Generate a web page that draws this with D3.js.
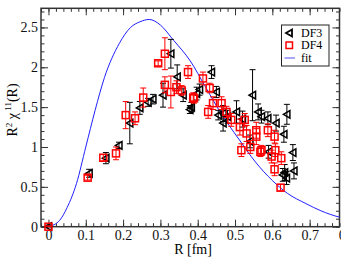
<html lang="en">
<head>
<meta charset="utf-8">
<title>R2 chi11</title>
<script src="https://cdn.jsdelivr.net/npm/d3@7"></script>
<style>
  body { margin: 0; background: white; }
  svg text { font-family: "Liberation Serif", "Times New Roman", serif; }
</style>
</head>
<body></body>
<script type="text/javascript">

//****************************************************************************************************************************//
// Data

var df3R   = [0, 0.109, 0.154, 0.189, 0.218, 0.245, 0.267, 0.280, 0.307, 0.328, 0.345, 0.361, 0.379, 0.383, 0.397, 0.405, 0.437, 0.450, 0.455, 0.468, 0.468, 0.480, 0.504, 0.520, 0.540, 0.547, 0.562, 0.571, 0.588, 0.590, 0.610, 0.628, 0.631, 0.633, 0.638, 0.639, 0.655, 0.658];
var df3Val = [0, 0.67, 0.86, 1.02, 1.30, 1.49, 1.56, 1.60, 1.65, 2.17, 1.88, 1.65, 1.47, 1.50, 1.67, 1.72, 1.94, 1.69, 1.40, 1.42, 1.30, 1.38, 1.44, 1.35, 1.07, 1.65, 1.44, 1.38, 1.36, 0.94, 1.30, 0.65, 1.16, 0.68, 0.61, 1.41, 0.93, 0.70];
var df3Err = [0.02, 0.05, 0.07, 0.04, 0.26, 0.08, 0.05, 0.06, 0.15, 0.18, 0.15, 0.08, 0.05, 0.06, 0.08, 0.07, 0.08, 0.07, 0.06, 0.10, 0.10, 0.08, 0.14, 0.10, 0.08, 0.32, 0.10, 0.08, 0.08, 0.08, 0.10, 0.08, 0.10, 0.10, 0.08, 0.125, 0.10, 0.10];

var df4R   = [0, 0.105, 0.147, 0.181, 0.207, 0.232, 0.254, 0.294, 0.312, 0.312, 0.328, 0.343, 0.357, 0.374, 0.388, 0.390, 0.414, 0.428, 0.432, 0.441, 0.464, 0.477, 0.490, 0.513, 0.517, 0.526, 0.531, 0.541, 0.557, 0.557, 0.568, 0.571, 0.588, 0.598, 0.606, 0.606, 0.608, 0.622, 0.624];
var df4Val = [0, 0.615, 0.865, 0.92, 1.40, 1.36, 1.62, 2.05, 2.17, 1.78, 1.69, 1.75, 1.71, 1.94, 1.62, 1.61, 1.86, 1.44, 1.74, 1.55, 1.55, 1.44, 1.34, 1.25, 0.96, 1.34, 1.17, 1.00, 1.21, 1.13, 0.94, 0.96, 1.21, 0.88, 1.13, 0.72, 0.96, 0.49, 0.86];
var df4Err = [0.01, 0.03, 0.04, 0.08, 0.17, 0.08, 0.12, 0.03, 0.20, 0.10, 0.20, 0.08, 0.06, 0.08, 0.06, 0.06, 0.08, 0.08, 0.06, 0.08, 0.08, 0.07, 0.08, 0.10, 0.08, 0.08, 0.10, 0.08, 0.10, 0.10, 0.06, 0.06, 0.08, 0.08, 0.08, 0.08, 0.08, 0.04, 0.08];

var fitR   = [0, 0.03, 0.05, 0.075, 0.10, 0.125, 0.15, 0.19, 0.22, 0.245, 0.27, 0.30, 0.335, 0.38, 0.42, 0.46, 0.51, 0.555, 0.60, 0.64, 0.69, 0.73, 0.78, 0.80];
var fitVal = [0, 0.08, 0.24, 0.54, 1.00, 1.46, 1.87, 2.30, 2.50, 2.57, 2.60, 2.53, 2.34, 2.08, 1.76, 1.44, 1.10, 0.81, 0.58, 0.42, 0.29, 0.20, 0.12, 0.10];

var xTicks = [0, 0.1, 0.2, 0.3, 0.4, 0.5, 0.6, 0.7, 0.8];
var yTicks = [0, 0.5, 1, 1.5, 2, 2.5];
var legendNames = ["DF3", "DF4", "fit"];

//****************************************************************************************************************************//
// Canvas

var width = 341, height = 264;
var plot = { left : 41, right : 339.5, top : 8.3, bottom : 226.7 };
var serif = "'Liberation Serif', 'Times New Roman', serif";

var canvas = d3.select("body")
            .append("svg")
            .attr("width", width)
            .attr("height", height)
            .attr("font-family", serif);

var x = d3.scaleLinear().domain([-0.02, 0.78]).range([plot.left, plot.right]);
var y = d3.scaleLinear().domain([0, 2.74]).range([plot.bottom, plot.top]);

canvas.append("clipPath").attr("id", "clip")
        .append("rect")
        .attr("x", plot.left).attr("y", plot.top)
        .attr("width", plot.right - plot.left).attr("height", plot.bottom - plot.top);

//****************************************************************************************************************************//
// Axes

var minorX = d3.range(-0.02, 0.781, 0.02);
var minorY = d3.range(0, 2.74, 0.1);

function styleAxis(g){
    g.attr("font-family", serif).attr("font-size", 14);
    g.select(".domain").remove();
    g.selectAll("line").attr("stroke", "#333").attr("stroke-width", 1);
    g.selectAll("text").attr("fill", "#111");
}

canvas.append("g").attr("transform", "translate(0," + plot.bottom + ")")
        .call(d3.axisBottom(x).tickValues(minorX).tickSize(-3.5).tickFormat(""))
        .call(styleAxis);
canvas.append("g").attr("transform", "translate(0," + plot.bottom + ")")
        .call(d3.axisBottom(x).tickValues(xTicks).tickSize(-7).tickPadding(3).tickFormat(d3.format("~g")))
        .call(styleAxis);
canvas.append("g").attr("transform", "translate(0," + plot.top + ")")
        .call(d3.axisTop(x).tickValues(minorX).tickSize(-3.5).tickFormat(""))
        .call(styleAxis);
canvas.append("g").attr("transform", "translate(0," + plot.top + ")")
        .call(d3.axisTop(x).tickValues(xTicks).tickSize(-7).tickFormat(""))
        .call(styleAxis);

canvas.append("g").attr("transform", "translate(" + plot.left + ",0)")
        .call(d3.axisLeft(y).tickValues(minorY).tickSize(-3.5).tickFormat(""))
        .call(styleAxis);
canvas.append("g").attr("transform", "translate(" + plot.left + ",0)")
        .call(d3.axisLeft(y).tickValues(yTicks).tickSize(-7).tickPadding(3).tickFormat(d3.format("~g")))
        .call(styleAxis);
canvas.append("g").attr("transform", "translate(" + plot.right + ",0)")
        .call(d3.axisRight(y).tickValues(minorY).tickSize(-3.5).tickFormat(""))
        .call(styleAxis);
canvas.append("g").attr("transform", "translate(" + plot.right + ",0)")
        .call(d3.axisRight(y).tickValues(yTicks).tickSize(-7).tickFormat(""))
        .call(styleAxis);

canvas.append("rect")
        .attr("x", plot.left).attr("y", plot.top)
        .attr("width", plot.right - plot.left).attr("height", plot.bottom - plot.top)
        .attr("fill", "none").attr("stroke", "#333").attr("stroke-width", 1.5);

canvas.append("text")
        .attr("x", 193).attr("y", 253.5)
        .attr("text-anchor", "middle")
        .attr("font-size", 14)
        .text("R [fm]");

var yLabel = canvas.append("text")
        .attr("transform", "translate(17,110) rotate(-90)")
        .attr("text-anchor", "middle")
        .attr("font-size", 14);
yLabel.append("tspan").text("R");
yLabel.append("tspan").attr("dy", -5).attr("font-size", 9).text("2");
yLabel.append("tspan").attr("dy", 5).text(" \u03C7");
yLabel.append("tspan").attr("dy", -6).attr("font-size", 9).text(" 11");
yLabel.append("tspan").attr("dy", 6).text("(R)");

//****************************************************************************************************************************//
// Fit curve

var fitData = fitR.map(function(r, i){ return { r : r, v : fitVal[i] }; });

canvas.append("path")
        .datum(fitData)
        .attr("clip-path", "url(#clip)")
        .attr("fill", "none")
        .attr("stroke", "#2020ff")
        .attr("stroke-width", 1)
        .attr("d", d3.line().x(function(d){ return x(d.r); }).y(function(d){ return y(d.v); }).curve(d3.curveMonotoneX));

//****************************************************************************************************************************//
// Data series

function drawSeries(rs, vs, es, color, shape){
    var data = rs.map(function(r, i){ return { r : r, v : vs[i], e : es[i] }; });
    var g = canvas.append("g");
    var pts = g.selectAll("g").data(data).enter().append("g")
                .attr("transform", function(d){ return "translate(" + x(d.r) + "," + y(d.v) + ")"; });
    pts.append("line")
        .attr("x1", 0).attr("x2", 0)
        .attr("y1", function(d){ return y(d.v + d.e) - y(d.v); })
        .attr("y2", function(d){ return y(Math.max(0, d.v - d.e)) - y(d.v); })
        .attr("stroke", color).attr("stroke-width", 1);
    pts.append("line")
        .attr("x1", -3).attr("x2", 3)
        .attr("y1", function(d){ return y(d.v + d.e) - y(d.v); })
        .attr("y2", function(d){ return y(d.v + d.e) - y(d.v); })
        .attr("stroke", color).attr("stroke-width", 1);
    pts.append("line")
        .attr("x1", -3).attr("x2", 3)
        .attr("y1", function(d){ return y(Math.max(0, d.v - d.e)) - y(d.v); })
        .attr("y2", function(d){ return y(Math.max(0, d.v - d.e)) - y(d.v); })
        .attr("stroke", color).attr("stroke-width", 1);
    if (shape === "square") {
        pts.append("rect")
            .attr("x", -3.5).attr("y", -3.5).attr("width", 7).attr("height", 7)
            .attr("fill", "none").attr("stroke", color).attr("stroke-width", 1.5);
    } else {
        pts.append("path")
            .attr("d", "M-3.5,0L3,-3.8L3,3.8Z")
            .attr("fill", "none").attr("stroke", color).attr("stroke-width", 1.5);
    }
}

drawSeries(df3R, df3Val, df3Err, "#000", "triangle");
drawSeries(df4R, df4Val, df4Err, "#ff0000", "square");

//****************************************************************************************************************************//
// Legend

var legend = canvas.append("g");
legend.append("rect")
        .attr("x", 281.5).attr("y", 25)
        .attr("width", 47.5).attr("height", 41)
        .attr("fill", "white").attr("stroke", "#222").attr("stroke-width", 1);

legend.append("path")
        .attr("d", "M286,33L292,29.5L292,36.5Z")
        .attr("fill", "none").attr("stroke", "#000").attr("stroke-width", 1.8);
legend.append("rect")
        .attr("x", 286).attr("y", 42).attr("width", 6.5).attr("height", 6.5)
        .attr("fill", "none").attr("stroke", "#ff0000").attr("stroke-width", 1.5);
legend.append("line")
        .attr("x1", 284.5).attr("x2", 295).attr("y1", 58).attr("y2", 58)
        .attr("stroke", "#8888ff").attr("stroke-width", 1.5);

legend.selectAll("text.leg").data(legendNames).enter().append("text")
        .attr("class", "leg")
        .attr("x", 301)
        .attr("y", function(d, i){ return 37 + i * 12.4; })
        .attr("font-size", 12)
        .text(function(d){ return d; });

</script>
</html>
